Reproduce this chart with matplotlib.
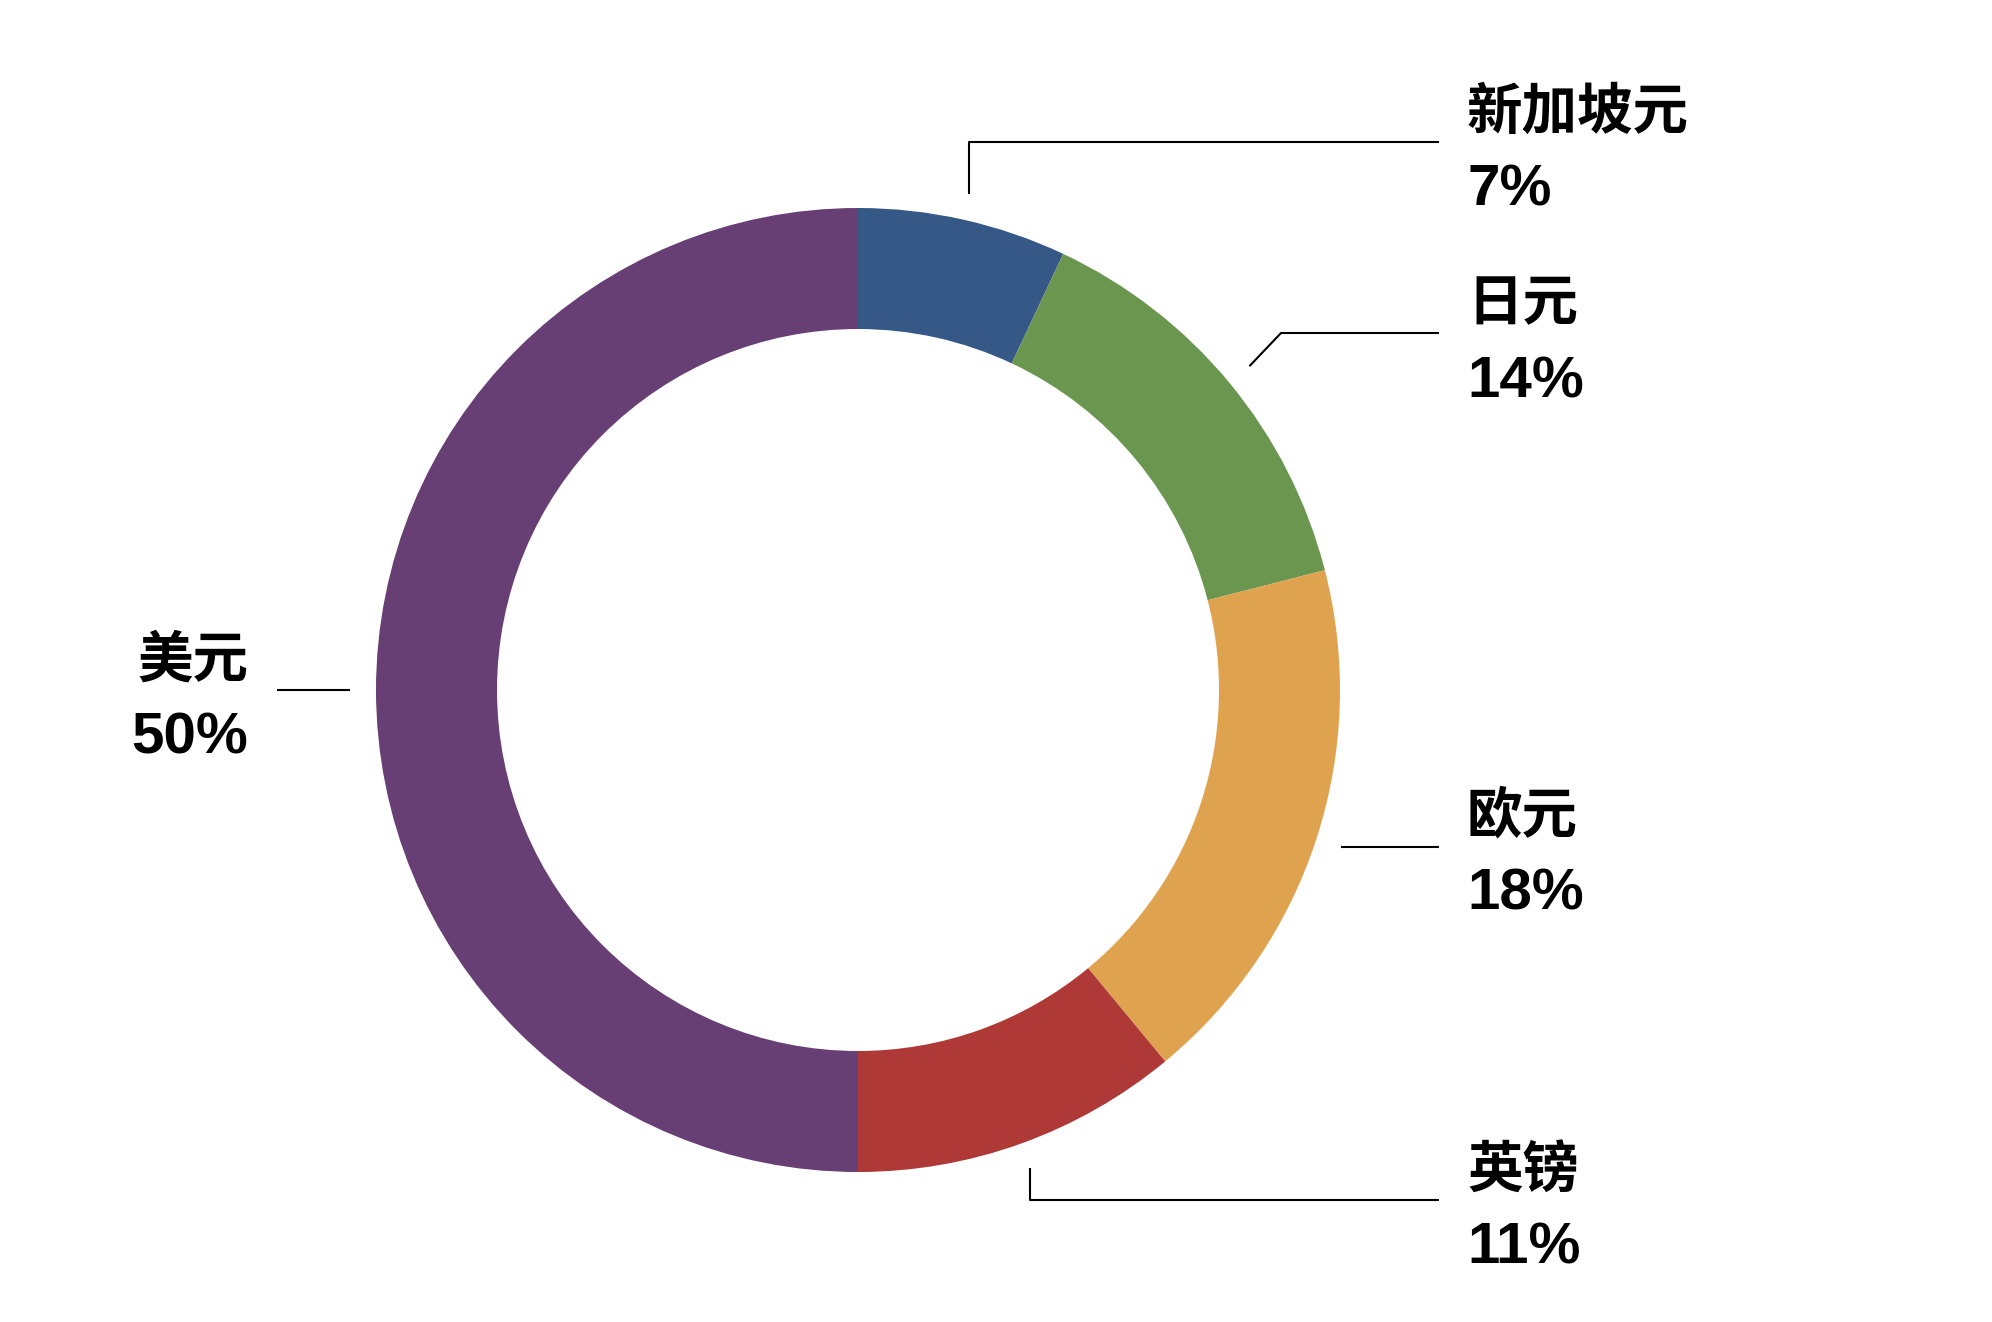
import numpy as np
from matplotlib import pyplot as plt

# 数据
labels = ['新加坡元', '日元', '欧元', '英镑', '美元']
shares = [7, 14, 18, 11, 50]
colors = ['#365886', '#6a9650', '#dfa350', '#ae3937', '#683f74']

W, H = 1992, 1322
fig = plt.figure(figsize=(W / 100, H / 100), dpi=100)
ax = fig.add_axes([0, 0, 1, 1])

cx, cy = 858, H - 690
R = 482
wedges, _ = ax.pie(shares, colors=colors, startangle=90, counterclock=False,
                   center=(cx, cy), radius=R, frame=True,
                   wedgeprops=dict(width=121, linewidth=0))
ax.set_xlim(0, W)
ax.set_ylim(0, H)
ax.set_aspect('equal')
ax.axis('off')

# 引线: 锚点在扇区中线上, 之后的折点(像素, y 从上往下)
bends = {
    '新加坡元': [(None, 142), (1439, 142)],
    '日元': [(1281, 333), (1439, 333)],
    '欧元': [(1439, None)],
    '英镑': [(None, 1200), (1439, 1200)],
    '美元': [(277, None)],
}
# 文字位置 (x, 引线y, 对齐)
text_pos = {
    '新加坡元': (1467, 142, 'left'),
    '日元': (1467, 333, 'left'),
    '欧元': (1467, 846, 'left'),
    '英镑': (1467, 1200, 'left'),
    '美元': (248, 690, 'right'),
}

for w, name, pct in zip(wedges, labels, shares):
    ang = np.deg2rad((w.theta1 + w.theta2) / 2)
    x0 = cx + 508 * np.cos(ang)
    y0 = cy + 508 * np.sin(ang)
    xs, ys = [x0], [y0]
    for bx, by in bends[name]:
        xs.append(xs[-1] if bx is None else bx)
        ys.append(ys[-1] if by is None else H - by)
    ax.plot(xs, ys, color='black', lw=1.5, solid_capstyle='butt')

    tx, ly, ha = text_pos[name]
    ax.text(tx, H - (ly - 29), name, ha=ha, va='center', fontsize=40,
            fontweight='bold', family=['Noto Sans CJK SC', 'DejaVu Sans'])
    ax.text(tx, H - (ly + 49), f'{pct}%', ha=ha, va='center', fontsize=42,
            fontweight='bold', family=['Liberation Sans', 'DejaVu Sans'])

plt.savefig('out.png', dpi=100, facecolor='white')
